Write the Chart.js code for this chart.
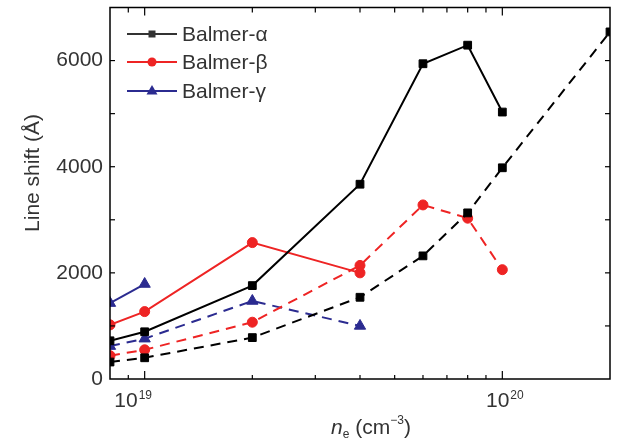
<!DOCTYPE html>
<html>
<head>
<meta charset="utf-8">
<script src="https://cdn.jsdelivr.net/npm/chart.js@4/dist/chart.umd.min.js"></script>
<style>
  body { margin: 0; background: #fff; }
  canvas { display: block; }
</style>
</head>
<body>
<canvas id="myChart" width="618" height="444"></canvas>
<script>
'use strict'

/* global Chart */

// electron density (cm^-3)
const density = [8e18, 1e19, 2e19, 4e19, 6e19, 8e19, 1e20, 2e20]

// line shift (Angstrom), solid and dashed curves
const alphaSolid = [720, 890, 1760, 3670, 5940, 6290, 5030, null]
const alphaDashed = [320, 400, 780, 1540, 2320, 3130, 3980, 6540]
const betaSolid = [1020, 1270, 2570, 2000, null, null, null, null]
const betaDashed = [440, 550, 1070, 2140, 3280, 3030, 2060, null]
const gammaSolid = [1430, 1790, null, null, null, null, null, null]
const gammaDashed = [620, 760, 1470, 1000, null, null, null, null]

const seriesNames = ['Balmer-α', 'Balmer-β', 'Balmer-γ']
const xMajor = [1e19, 1e20]
const xMinor = [9e18, 2e19, 3e19, 4e19, 5e19, 6e19, 7e19, 8e19, 9e19]

const BLACK = '#000000'
const RED = '#ee2424'
const BLUE = '#2b2b90'
const TEXT = '#333333'
const FONT = '"Liberation Sans", Arial, sans-serif'

function points (values) {
  const out = []
  values.forEach((v, i) => {
    if (v !== null) out.push({ x: density[i], y: v })
  })
  return out
}

function makeSet (values, color, style, radius, dashed) {
  return {
    data: points(values),
    borderColor: color,
    backgroundColor: color,
    borderWidth: 2,
    borderDash: dashed ? [10, 7] : [],
    pointStyle: style,
    pointRadius: radius,
    pointBorderWidth: 1,
    tension: 0,
    fill: false
  }
}

function line (ctx, x1, y1, x2, y2) {
  ctx.beginPath()
  ctx.moveTo(x1, y1)
  ctx.lineTo(x2, y2)
  ctx.stroke()
}

function marker (ctx, style, x, y, color) {
  ctx.fillStyle = color
  ctx.beginPath()
  if (style === 'rect') {
    ctx.rect(x - 3.5, y - 3.5, 7, 7)
  } else if (style === 'circle') {
    ctx.arc(x, y, 4.5, 0, Math.PI * 2)
  } else {
    ctx.moveTo(x, y - 6)
    ctx.lineTo(x + 5.5, y + 3.5)
    ctx.lineTo(x - 5.5, y + 3.5)
    ctx.closePath()
  }
  ctx.fill()
}

const decorations = {
  id: 'decorations',
  afterDraw (chart) {
    const { ctx, chartArea: a, scales: { x, y } } = chart
    ctx.save()
    ctx.strokeStyle = BLACK
    ctx.lineWidth = 1.5
    ctx.strokeRect(a.left, a.top, a.right - a.left, a.bottom - a.top)

    // inward ticks
    ctx.lineWidth = 1.2
    for (let v = 1000; v < 7000; v += 1000) {
      const py = y.getPixelForValue(v)
      line(ctx, a.left, py, a.left + 5, py)
      line(ctx, a.right, py, a.right - 5, py)
    }
    for (const v of xMajor) {
      const px = x.getPixelForValue(v)
      line(ctx, px, a.bottom, px, a.bottom - 8)
      line(ctx, px, a.top, px, a.top + 8)
    }
    for (const v of xMinor) {
      const px = x.getPixelForValue(v)
      line(ctx, px, a.bottom, px, a.bottom - 4)
      line(ctx, px, a.top, px, a.top + 5)
    }

    // x tick labels 10^n
    ctx.fillStyle = TEXT
    ctx.textBaseline = 'alphabetic'
    ctx.textAlign = 'left'
    xMajor.forEach((v, i) => {
      const px = x.getPixelForValue(v)
      const exp = String(Math.round(Math.log10(v)))
      ctx.font = '21px ' + FONT
      const w1 = ctx.measureText('10').width
      ctx.font = '12px ' + FONT
      const w2 = ctx.measureText(exp).width
      const left = px - (w1 + w2) / 2 + (i === 0 ? -12 : 2)
      ctx.font = '21px ' + FONT
      ctx.fillText('10', left, a.bottom + 28)
      ctx.font = '12px ' + FONT
      ctx.fillText(exp, left + w1 + 1, a.bottom + 20)
    })

    // x title: n_e (cm^-3)
    const parts = [
      { t: 'n', f: 'italic 21px ' + FONT, dy: 0 },
      { t: 'e', f: '12px ' + FONT, dy: 4 },
      { t: ' (cm', f: '21px ' + FONT, dy: 0 },
      { t: '−3', f: '12px ' + FONT, dy: -10 },
      { t: ')', f: '21px ' + FONT, dy: 0 }
    ]
    let total = 0
    for (const p of parts) {
      ctx.font = p.f
      p.w = ctx.measureText(p.t).width
      total += p.w
    }
    let cx = (a.left + a.right) / 2 + 11 - total / 2
    for (const p of parts) {
      ctx.font = p.f
      ctx.fillText(p.t, cx, 434 + p.dy)
      cx += p.w
    }

    // y title
    ctx.save()
    ctx.translate(33, 173)
    ctx.rotate(-Math.PI / 2)
    ctx.textAlign = 'center'
    ctx.textBaseline = 'middle'
    ctx.font = '21px ' + FONT
    ctx.fillText('Line shift (Å)', 0, 0)
    ctx.restore()

    // legend
    const colors = [BLACK, RED, BLUE]
    const styles = ['rect', 'circle', 'triangle']
    const rows = [34, 62, 91]
    ctx.lineWidth = 2
    ctx.textBaseline = 'middle'
    ctx.textAlign = 'left'
    seriesNames.forEach((name, i) => {
      const ly = rows[i]
      const lx = a.left + 17
      ctx.strokeStyle = i === 0 ? '#333333' : colors[i]
      line(ctx, lx, ly, lx + 50, ly)
      marker(ctx, styles[i], lx + 25, ly, i === 0 ? '#333333' : colors[i])
      ctx.fillStyle = TEXT
      ctx.font = '21px ' + FONT
      ctx.fillText(name, lx + 55, ly + 1)
    })
    ctx.restore()
  }
}

const myChart = new Chart(document.querySelector('#myChart'), {
  type: 'line',
  data: {
    datasets: [
      makeSet(alphaSolid, BLACK, 'rect', 5.5, false),
      makeSet(alphaDashed, BLACK, 'rect', 5.5, true),
      makeSet(betaSolid, RED, 'circle', 5, false),
      makeSet(betaDashed, RED, 'circle', 5, true),
      makeSet(gammaSolid, BLUE, 'triangle', 6.5, false),
      makeSet(gammaDashed, BLUE, 'triangle', 6.5, true)
    ]
  },
  options: {
    responsive: false,
    devicePixelRatio: 1,
    animation: false,
    layout: { padding: { top: 7, right: 8, left: 0, bottom: 0 } },
    plugins: {
      legend: { display: false },
      tooltip: { enabled: false }
    },
    scales: {
      x: {
        type: 'logarithmic',
        min: 8e18,
        max: 2e20,
        grid: { display: false, drawTicks: false },
        border: { display: false },
        ticks: { display: false },
        afterFit: (scale) => {
          scale.height = 65
          scale.paddingLeft = 0
          scale.paddingRight = 0
        }
      },
      y: {
        type: 'linear',
        min: 0,
        max: 7000,
        grid: { display: false, drawTicks: false },
        border: { display: false },
        ticks: {
          stepSize: 1000,
          padding: 7,
          color: TEXT,
          font: { family: FONT, size: 21 },
          callback: (v) => (v % 2000 === 0 && v < 7000 ? v : '')
        },
        afterFit: (scale) => {
          scale.width = 110
          scale.paddingTop = 0
          scale.paddingBottom = 0
        }
      }
    }
  },
  plugins: [decorations]
})
</script>
</body>
</html>
